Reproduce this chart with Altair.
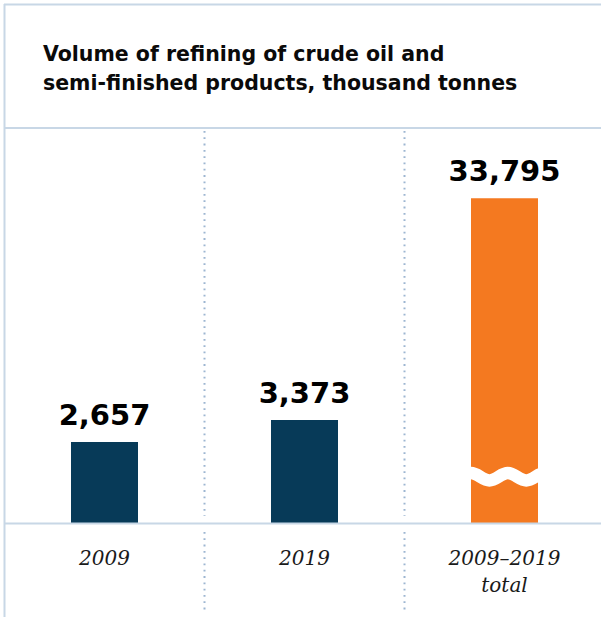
import altair as alt
import pandas as pd

# ---- data ----
CATEGORIES = ["2009", "2019", "2009–2019 total"]
X_LABELS = ["2009", "2019", "2009–2019\ntotal"]
VALUES = [2657, 3373, 33795]
BAR_COLORS = ["#073a58", "#073a58", "#f47920"]
BROKEN = [False, False, True]
TITLE_LINES = ["Volume of refining of crude oil and",
               "semi-finished products, thousand tonnes"]

# ---- styling / layout constants ----
DISPLAY_CAP = 10590      # display height (in value units) of the broken bar
BREAK_AT = 1523          # where the break symbol sits (value units)
FRAME = "#c8d7e6"
DOTS = "#9db6d1"
WAVE = ("M -1.55 0.11 C -1.35 0.11 -1.2 -0.11 -1.0 -0.11 "
        "C -0.8 -0.11 -0.65 0.11 -0.45 0.11 "
        "C -0.25 0.11 -0.1 -0.11 0.1 -0.11 "
        "C 0.3 -0.11 0.45 0.11 0.65 0.11 "
        "C 0.85 0.11 1.0 -0.11 1.2 -0.11")

df = pd.DataFrame({
    "cat": CATEGORIES,
    "xlabel": X_LABELS,
    "value": VALUES,
    "color": BAR_COLORS,
    "broken": BROKEN,
})

xscale = alt.Scale(domain=CATEGORIES, range=[4.5, 604.5], paddingInner=0, paddingOuter=0)
yscale = alt.Scale(domain=[0, 17050], range=[523.5, 0], nice=False)

base = alt.Chart(df).transform_calculate(
    disp=f"datum.broken ? min(datum.value, {DISPLAY_CAP}) : datum.value",
    zero="0",
    brk=f"{BREAK_AT}",
)

X = alt.X("cat:N", scale=xscale, axis=None, sort=CATEGORIES)

one = alt.Chart(pd.DataFrame({"k": [0]}))

# frame lines
frame_left = one.mark_rule(color=FRAME, strokeWidth=2).encode(
    x=alt.value(4.5), y=alt.value(4), y2=alt.value(617))
frame_top = one.mark_rule(color=FRAME, strokeWidth=2).encode(
    x=alt.value(4), x2=alt.value(601), y=alt.value(4.5))
frame_title = one.mark_rule(color=FRAME, strokeWidth=2).encode(
    x=alt.value(4), x2=alt.value(601), y=alt.value(128))
baseline = base.transform_filter("datum.broken").mark_rule(color=FRAME, strokeWidth=2).encode(
    x=alt.value(4), x2=alt.value(601), y=alt.Y("zero:Q", scale=yscale, axis=None))

# dotted separators between columns
dot = dict(color=DOTS, strokeWidth=2, strokeDash=[1.8, 4.5])
sep_top = one.mark_rule(**dot).encode(x=alt.value(204.5), y=alt.value(131), y2=alt.value(516))
sep_bot = one.mark_rule(**dot).encode(x=alt.value(204.5), y=alt.value(532), y2=alt.value(612))
sep_top2 = one.mark_rule(**dot).encode(x=alt.value(404.5), y=alt.value(131), y2=alt.value(516))
sep_bot2 = one.mark_rule(**dot).encode(x=alt.value(404.5), y=alt.value(532), y2=alt.value(612))

bars = base.mark_bar(width=67).encode(
    x=X,
    y=alt.Y("disp:Q", scale=yscale, axis=None),
    color=alt.Color("color:N", scale=None, legend=None),
)

wave = base.transform_filter("datum.broken").mark_point(
    shape=WAVE, size=4489, filled=False, stroke="white", strokeWidth=12.5, opacity=1
).encode(
    x=X,
    y=alt.Y("brk:Q", scale=yscale, axis=None),
)

values = base.mark_text(
    font="DejaVu Sans", fontWeight="bold", fontSize=29, baseline="alphabetic",
    align="center", dy=-17, color="#000000"
).encode(
    x=X,
    y=alt.Y("disp:Q", scale=yscale, axis=None),
    text=alt.Text("value:Q", format=","),
)

xlabels = base.mark_text(
    font="DejaVu Serif", fontStyle="italic", fontSize=20, baseline="alphabetic",
    align="center", lineBreak="\n", lineHeight=27, color="#1a1a1a"
).encode(
    x=X,
    y=alt.value(565),
    text="xlabel:N",
)

title = one.mark_text(
    text=TITLE_LINES, font="DejaVu Sans", fontWeight="bold", fontSize=20.5,
    align="left", baseline="alphabetic", lineHeight=28.5, color="#0a0a0a"
).encode(x=alt.value(43), y=alt.value(61))

chart = alt.layer(
    frame_left, frame_top, frame_title, sep_top, sep_bot, sep_top2, sep_bot2,
    bars, wave, baseline, values, xlabels, title
).properties(
    width=601, height=617, autosize="none", padding=0
).configure_view(stroke=None)

chart.save("out.html", embed_options={"renderer": "svg", "actions": False})
